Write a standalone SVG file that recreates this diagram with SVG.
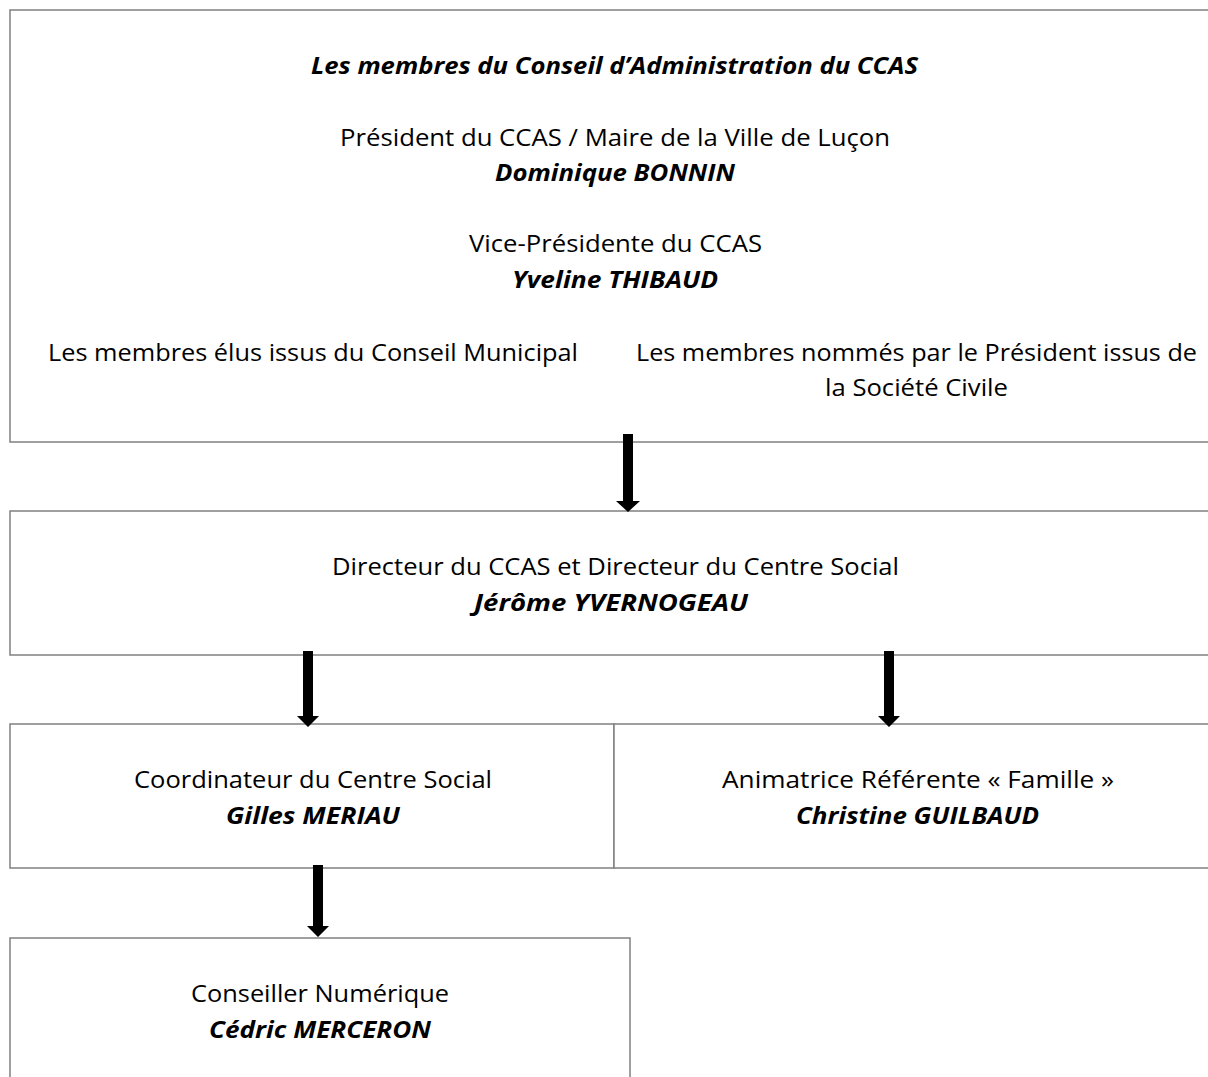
<svg xmlns="http://www.w3.org/2000/svg" width="1208" height="1077" viewBox="0 0 1208 1077">
<style>
.box{fill:#fff;stroke:#808080;stroke-width:1.5}
text{font-family:"Open Sans","Noto Sans","Liberation Sans",sans-serif;font-size:23px;fill:#000;text-anchor:middle}
.b{font-weight:bold;font-style:italic}
.arrow{fill:#000}
</style>
<rect width="1208" height="1077" fill="#fff"/>
<g id="conseil">
<rect class="box" x="10" y="10" width="1210" height="432"/>
<text class="b" x="614.5" y="74" textLength="607" lengthAdjust="spacingAndGlyphs">Les membres du Conseil d’Administration du CCAS</text>
<text x="615" y="146" textLength="550" lengthAdjust="spacingAndGlyphs">Président du CCAS / Maire de la Ville de Luçon</text>
<text class="b" x="615" y="181" textLength="240" lengthAdjust="spacingAndGlyphs">Dominique BONNIN</text>
<text x="615.5" y="252" textLength="293" lengthAdjust="spacingAndGlyphs">Vice-Présidente du CCAS</text>
<text class="b" x="615" y="288" textLength="206" lengthAdjust="spacingAndGlyphs">Yveline THIBAUD</text>
<text x="313" y="361" textLength="530" lengthAdjust="spacingAndGlyphs">Les membres élus issus du Conseil Municipal</text>
<text x="916.5" y="361" textLength="561" lengthAdjust="spacingAndGlyphs">Les membres nommés par le Président issus de</text>
<text x="916.5" y="396" textLength="183" lengthAdjust="spacingAndGlyphs">la Société Civile</text>
</g>
<g id="directeur">
<rect class="box" x="10" y="511" width="1210" height="144"/>
<text x="615.5" y="575" textLength="567" lengthAdjust="spacingAndGlyphs">Directeur du CCAS et Directeur du Centre Social</text>
<text class="b" x="611" y="611" textLength="274" lengthAdjust="spacingAndGlyphs">Jérôme YVERNOGEAU</text>
</g>
<g id="coordinateur">
<rect class="box" x="10" y="724" width="604" height="144"/>
<text x="313" y="788" textLength="358" lengthAdjust="spacingAndGlyphs">Coordinateur du Centre Social</text>
<text class="b" x="313" y="824" textLength="174" lengthAdjust="spacingAndGlyphs">Gilles MERIAU</text>
</g>
<g id="animatrice">
<rect class="box" x="614" y="724" width="606" height="144"/>
<text x="918" y="788" textLength="392" lengthAdjust="spacingAndGlyphs">Animatrice Référente « Famille »</text>
<text class="b" x="917.5" y="824" textLength="243" lengthAdjust="spacingAndGlyphs">Christine GUILBAUD</text>
</g>
<g id="conseiller">
<rect class="box" x="10" y="938" width="620" height="150"/>
<text x="320" y="1002" textLength="258" lengthAdjust="spacingAndGlyphs">Conseiller Numérique</text>
<text class="b" x="320" y="1038" textLength="222" lengthAdjust="spacingAndGlyphs">Cédric MERCERON</text>
</g>
<g id="connectors">
<polygon class="arrow" points="623,434 633,434 633,501 640,501 628,512 616,501 623,501"/>
<polygon class="arrow" points="303,651 313,651 313,716 319,716 308,727 297,716 303,716"/>
<polygon class="arrow" points="884,651 894,651 894,716 900,716 889,727 878,716 884,716"/>
<polygon class="arrow" points="313,865 323,865 323,926 329,926 318,937 307,926 313,926"/>
</g>
</svg>
